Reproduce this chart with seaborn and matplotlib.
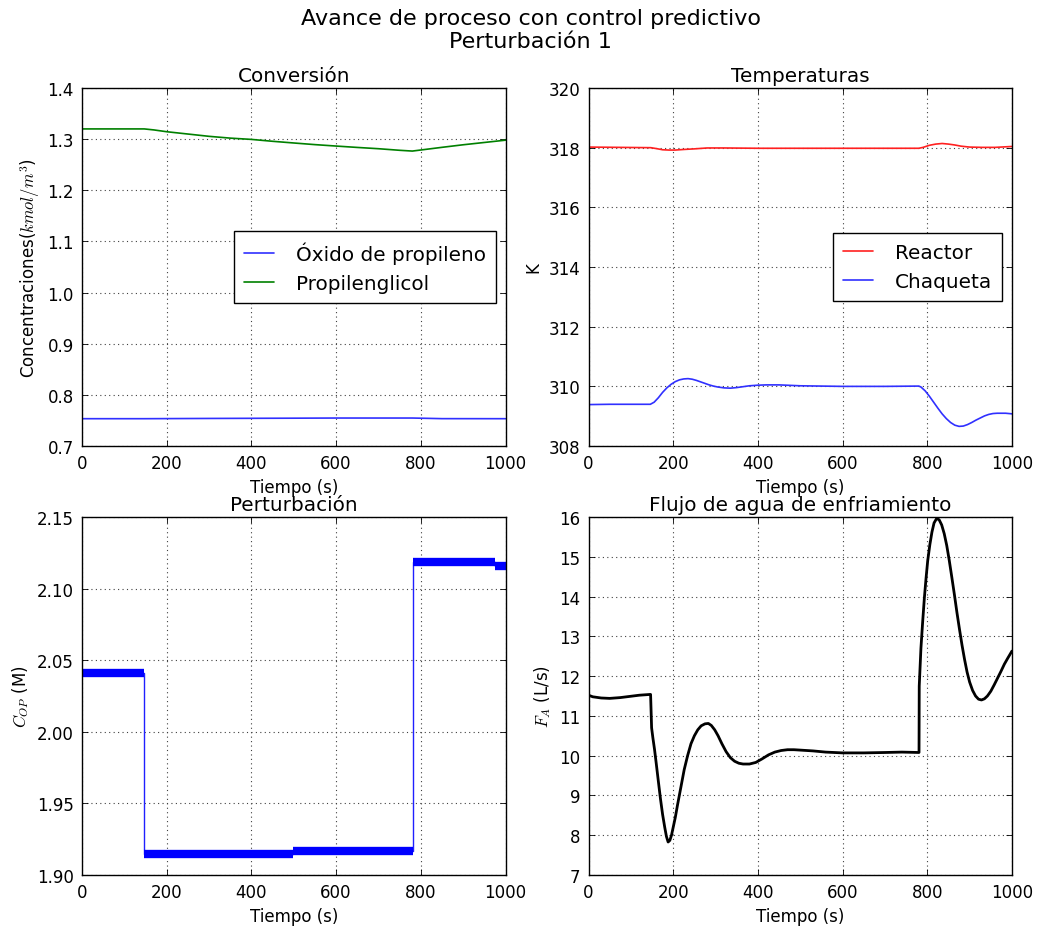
import numpy as np
import pandas as pd
import matplotlib
matplotlib.use("Agg")
import matplotlib.pyplot as plt
import seaborn as sns

# ---------------- data ----------------
# Concentraciones (kmol/m^3)
t_conv = [0, 147, 170, 200, 250, 300, 350, 400, 450, 500, 550, 600, 650, 700, 750, 780,
          850, 900, 1000]
c_propilenglicol = [1.320, 1.320, 1.318, 1.3145, 1.310, 1.3055, 1.302, 1.2995, 1.2958,
                    1.2925, 1.2893, 1.2865, 1.2838, 1.2813, 1.2782, 1.2767, 1.284, 1.289,
                    1.298]
t_oxido = [0, 147, 300, 500, 600, 780, 850, 1000]
c_oxido = [0.7535, 0.7535, 0.7540, 0.7545, 0.7548, 0.7548, 0.7536, 0.7535]

# Temperaturas (K)
t_reactor = [0, 147, 160, 175, 190, 205, 225, 250, 280, 320, 400, 600, 780, 790, 805,
             820, 835, 850, 865, 880, 900, 930, 960, 1000]
T_reactor = [318.02, 318.00, 317.97, 317.93, 317.92, 317.92, 317.94, 317.96, 317.99,
             317.99, 317.98, 317.98, 317.98, 318.01, 318.08, 318.12, 318.14, 318.12,
             318.09, 318.05, 318.02, 318.01, 318.01, 318.04]
t_chaqueta = [0, 50, 100, 146, 155, 165, 175, 185, 195, 205, 215, 225, 235, 245, 255,
              265, 275, 285, 295, 305, 320, 335, 350, 365, 380, 400, 420, 450, 500, 550,
              600, 700, 780, 785, 795, 805, 815, 825, 835, 845, 855, 865, 875, 885, 895,
              905, 915, 925, 935, 945, 955, 965, 975, 985, 1000]
T_chaqueta = [309.39, 309.40, 309.40, 309.40, 309.47, 309.62, 309.80, 309.95, 310.07,
              310.16, 310.22, 310.25, 310.26, 310.24, 310.20, 310.15, 310.10, 310.05,
              310.01, 309.98, 309.95, 309.94, 309.96, 309.99, 310.02, 310.04, 310.05,
              310.05, 310.02, 310.01, 310.00, 310.00, 310.01, 309.98, 309.85, 309.67,
              309.47, 309.27, 309.08, 308.92, 308.79, 308.70, 308.66, 308.67, 308.72,
              308.79, 308.87, 308.94, 309.01, 309.06, 309.09, 309.10, 309.10, 309.10,
              309.08]

# Perturbacion: concentracion de alimentacion C_OP (M), por tramos
tramo_inicio = [0, 147, 498, 781, 976]
tramo_fin = [147, 498, 781, 976, 1000]
tramo_nivel = [2.0413, 1.9147, 1.9170, 2.1184, 2.1160]

# Flujo de agua de enfriamiento F_A (L/s)
t_flujo = [0, 10, 30, 50, 75, 120, 146.6, 149, 152, 156, 160, 165, 170, 175, 180, 184,
           188, 192, 196, 200, 205, 210, 218, 226, 234, 242, 250, 258, 266, 275, 283,
           290, 298, 306, 315, 325, 335, 345, 355, 365, 380, 395, 410, 425, 440, 455,
           470, 485, 500, 530, 560, 600, 650, 700, 740, 780.5,
           781, 785, 789, 793, 797, 801, 806, 811, 816, 822, 828, 834, 840, 846, 852,
           858, 864, 870, 876, 882, 888, 894, 900, 907, 914, 921, 928, 935, 942, 950,
           958, 966, 974, 982, 990, 1000]
F_flujo = [11.52, 11.48, 11.45, 11.44, 11.46, 11.52, 11.54, 10.70, 10.45, 10.15, 9.80,
           9.35, 8.91, 8.52, 8.20, 7.97, 7.83, 7.87, 8.00, 8.20, 8.45, 8.75, 9.20, 9.65,
           10.00, 10.30, 10.50, 10.65, 10.75, 10.80, 10.81, 10.76, 10.65, 10.50, 10.30,
           10.10, 9.95, 9.86, 9.81, 9.79, 9.79, 9.83, 9.92, 10.02, 10.09, 10.13, 10.15,
           10.15, 10.14, 10.12, 10.09, 10.07, 10.07, 10.08, 10.09, 10.08,
           11.75, 12.70, 13.35, 13.95, 14.45, 14.90, 15.30, 15.62, 15.85, 15.96, 15.93,
           15.80, 15.58, 15.28, 14.90, 14.48, 14.05, 13.60, 13.18, 12.78, 12.42, 12.10,
           11.85, 11.64, 11.50, 11.42, 11.40, 11.43, 11.50, 11.62, 11.78, 11.95, 12.12,
           12.30, 12.45, 12.63]

# ---------------- style ----------------
sns.set_theme(style="white")
plt.rcParams.update({
    "font.family": ["DejaVu Sans"],
    "mathtext.fontset": "cm",
    "font.size": 12,
    "axes.edgecolor": "black",
    "axes.linewidth": 1.0,
    "axes.labelcolor": "black",
    "xtick.color": "black",
    "ytick.color": "black",
    "xtick.labelsize": 12,
    "ytick.labelsize": 12,
    "xtick.direction": "in",
    "ytick.direction": "in",
    "xtick.top": True,
    "ytick.right": True,
    "xtick.major.size": 4,
    "ytick.major.size": 4,
    "xtick.major.width": 0.6,
    "ytick.major.width": 0.6,
    "xtick.major.pad": 6,
    "ytick.major.pad": 6,
    "xtick.bottom": True,
    "ytick.left": True,
    "text.color": "black",
})

fig, axes = plt.subplots(2, 2, figsize=(10.45, 9.28), dpi=100)
fig.subplots_adjust(left=0.0785, right=0.9684, top=0.9041, bottom=0.056,
                    wspace=0.196, hspace=0.198)
fig.suptitle("Avance de proceso con control predictivo\nPerturbación 1",
             fontsize=16, x=0.508, y=0.990, va="top", linespacing=1.2)


def estilo(ax, titulo, ylabel, ylim, yticks, yfmt=None):
    ax.set_title(titulo, fontsize=14.4, pad=5)
    ax.set_xlabel("Tiempo (s)", fontsize=12, labelpad=4)
    ax.set_ylabel(ylabel, fontsize=12)
    ax.set_xlim(0, 1000)
    ax.set_xticks(np.arange(0, 1001, 200))
    ax.set_ylim(*ylim)
    ax.set_yticks(yticks)
    if yfmt:
        ax.set_yticklabels([yfmt % v for v in yticks])
    ax.grid(True, color="0.25", linestyle=(0, (1, 3)), linewidth=0.8)
    ax.tick_params(which="both", top=True, right=True, direction="in")
    for s in ax.spines.values():
        s.set_visible(True)
        s.set_color("black")
        s.set_linewidth(1.0)


def leyenda(ax):
    leg = ax.legend(loc="center right", fontsize=14.4, frameon=True, fancybox=False,
                    edgecolor="black", framealpha=1.0, handlelength=1.5,
                    handletextpad=1.1, borderpad=0.5, borderaxespad=0.5)
    leg.get_frame().set_linewidth(1.0)


# Conversion
ax = axes[0, 0]
sns.lineplot(x=t_oxido, y=c_oxido, ax=ax, color="#3030ff", lw=1.2,
             estimator=None, sort=False, label="Óxido de propileno")
sns.lineplot(x=t_conv, y=c_propilenglicol, ax=ax, color="#008000", lw=1.2,
             estimator=None, sort=False, label="Propilenglicol")
estilo(ax, "Conversión", r"Concentraciones($kmol/m^3$)", (0.7, 1.4),
       np.round(np.arange(0.7, 1.401, 0.1), 1), "%.1f")
leyenda(ax)

# Temperaturas
ax = axes[0, 1]
sns.lineplot(x=t_reactor, y=T_reactor, ax=ax, color="#ff2020", lw=1.2,
             estimator=None, sort=False, label="Reactor")
sns.lineplot(x=t_chaqueta, y=T_chaqueta, ax=ax, color="#3030ff", lw=1.2,
             estimator=None, sort=False, label="Chaqueta")
estilo(ax, "Temperaturas", "K", (308, 320), np.arange(308, 321, 2))
leyenda(ax)

# Perturbacion
ax = axes[1, 0]
t_step, c_step = [], []
for a, b, v in zip(tramo_inicio, tramo_fin, tramo_nivel):
    t_step += [a, b]
    c_step += [v, v]
sns.lineplot(x=t_step, y=c_step, ax=ax, color="#2020ff", lw=1.0,
             estimator=None, sort=False)
ax.hlines(tramo_nivel, tramo_inicio, tramo_fin, colors="#0000ff",
          linewidth=6.0, capstyle="butt")
estilo(ax, "Perturbación", r"$C_{OP}$ (M)", (1.90, 2.15),
       np.round(np.arange(1.90, 2.151, 0.05), 2), "%.2f")

# Flujo de agua
ax = axes[1, 1]
sns.lineplot(x=t_flujo, y=F_flujo, ax=ax, color="black", lw=2.0,
             estimator=None, sort=False)
estilo(ax, "Flujo de agua de enfriamiento", r"$F_A$ (L/s)", (7, 16), np.arange(7, 17, 1))

fig.savefig("out.png", dpi=100)
